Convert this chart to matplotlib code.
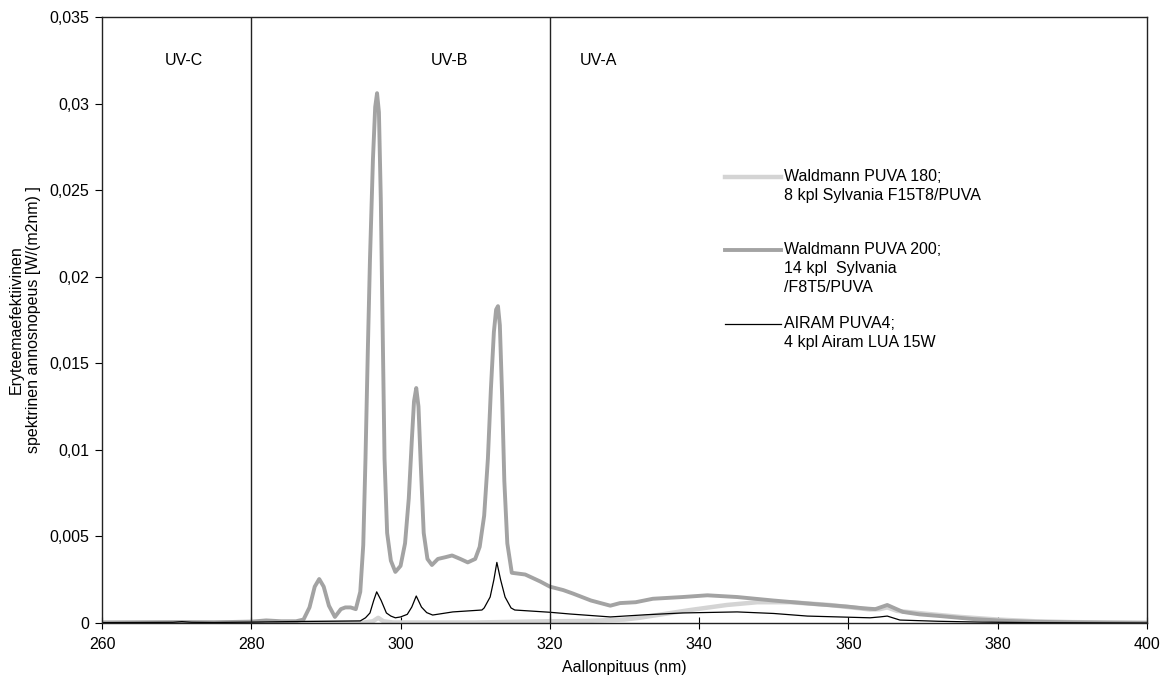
import matplotlib
matplotlib.use("Agg")
import matplotlib.pyplot as plt
from matplotlib.ticker import FuncFormatter

plt.rcParams['font.family'] = ['Liberation Sans', 'DejaVu Sans']

# Waldmann PUVA 180 (vaalea harmaa)
puva180_nm = [260, 280, 295, 296.3, 297.0, 297.7, 299, 310, 320, 325, 330, 332, 335,
              338.8, 343.7, 347.8, 352.2, 357.5, 362.9, 364.2, 365.2, 366.5, 370,
              375, 380, 385, 390, 400]
puva180_val = [0.0, 0.00002, 0.00002, 0.0001, 0.0003, 0.0001, 0.00003, 0.00003, 0.0001,
               0.00012, 0.0002, 0.0003, 0.0005, 0.00075, 0.00104, 0.0012, 0.0012,
               0.00104, 0.00078, 0.0008, 0.0009, 0.0007, 0.00055, 0.00035, 0.0002,
               0.0001, 0.00005, 0.00001]

# Waldmann PUVA 200 (harmaa)
puva200_nm = [260, 270, 275, 280, 282, 284, 286, 287.0, 287.8, 288.5, 289.1, 289.7,
              290.4, 291.2, 292.0, 292.6, 293.3, 294.0, 294.6, 295.0, 295.3, 295.6,
              295.9, 296.3, 296.6, 296.85, 297.1, 297.35, 297.6, 297.85, 298.2, 298.7,
              299.3, 300.0, 300.6, 301.1, 301.5, 301.8, 302.1, 302.4, 302.7, 303.1,
              303.6, 304.2, 305.0, 306.0, 306.9, 308.0, 309.0, 310.0, 310.6, 311.2,
              311.7, 312.1, 312.5, 312.8, 313.05, 313.3, 313.6, 313.9, 314.3, 314.9,
              316.7, 318.7, 320.0, 321.8, 323.1, 325.5, 328.1, 329.4, 331.5, 333.8,
              337.8, 341.1, 345.1, 349.9, 355.3, 359.8, 362.0, 363.6, 365.2, 367.3,
              369.5, 372.3, 376.7, 381.2, 385, 390, 395, 400]
puva200_val = [0.00003, 0.00005, 0.00004, 0.00008, 0.00015, 0.0001, 0.0001, 0.0002,
               0.0009, 0.0021, 0.00254, 0.0021, 0.001, 0.00035, 0.0008, 0.0009, 0.0009,
               0.0008, 0.0018, 0.0045, 0.0095, 0.0155, 0.021, 0.0268, 0.0298, 0.0306,
               0.0295, 0.0245, 0.017, 0.0095, 0.0052, 0.0036, 0.00295, 0.0033, 0.0046,
               0.0072, 0.0105, 0.0128, 0.01357, 0.0125, 0.0092, 0.0052, 0.0037,
               0.00335, 0.0037, 0.0038, 0.0039, 0.0037, 0.0035, 0.0037, 0.0044, 0.0062,
               0.0095, 0.0135, 0.0168, 0.0181, 0.0183, 0.0172, 0.0132, 0.0082, 0.0046,
               0.0029, 0.0028, 0.0024, 0.0021, 0.0019, 0.0017, 0.0013, 0.001, 0.00115,
               0.0012, 0.0014, 0.0015, 0.0016, 0.0015, 0.0013, 0.0011, 0.00095, 0.00085,
               0.0008, 0.00104, 0.00064, 0.0005, 0.0004, 0.00023, 0.00012, 0.00007,
               0.00004, 0.00002, 0.00001]

# AIRAM PUVA4 (musta)
airam_nm = [260, 265, 269.5, 270.7, 272, 275, 280, 285, 290, 294.6, 295.3, 295.9,
            296.4, 296.8, 297.4, 298.1, 298.7, 299.3, 300.0, 300.9, 301.5, 302.1,
            302.8, 303.5, 304.3, 307.0, 310.9, 311.2, 312.0, 312.5, 312.9, 313.4,
            314.0, 314.8, 315.3, 320.0, 322.7, 328.1, 333, 337.8, 345.1, 350, 354.5,
            362.9, 364.2, 365.2, 366.9, 372, 378, 385, 400]
airam_val = [0.00002, 0.00003, 0.00004, 0.00008, 0.00004, 0.00003, 0.00005, 0.00008,
             0.0001, 0.00012, 0.0003, 0.00058, 0.0013, 0.0018, 0.0013, 0.00058, 0.0004,
             0.0003, 0.00035, 0.0005, 0.00092, 0.00156, 0.00092, 0.0006, 0.00046,
             0.00064, 0.00075, 0.00087, 0.0015, 0.0025, 0.0035, 0.0025, 0.0015,
             0.00087, 0.00075, 0.00062, 0.00052, 0.00035, 0.00048, 0.00058, 0.00064,
             0.00055, 0.0004, 0.0003, 0.00035, 0.0004, 0.00017, 0.0001, 0.00005,
             0.00002, 0.0]

# legendan tekstit (tyhjä rivi alussa, jotta viiva osuu ensimmäiselle riville)
labels = [" \nWaldmann PUVA 180;\n8 kpl Sylvania F15T8/PUVA",
          " \n \nWaldmann PUVA 200;\n14 kpl  Sylvania\n/F8T5/PUVA",
          " \nAIRAM PUVA4;\n4 kpl Airam LUA 15W"]

uv_rajat = [280, 320]
uv_nimet = ["UV-C", "UV-B", "UV-A"]
uv_x = [271, 306.5, 326.5]

fig = plt.figure(figsize=(11.7, 6.82), dpi=100)
ax = fig.add_axes([102 / 1170, 59 / 682, 1045 / 1170, 606 / 682])

ax.plot(puva180_nm, puva180_val, color="#d4d4d4", lw=3.2, label=labels[0])
ax.plot(puva200_nm, puva200_val, color="#a3a3a3", lw=2.8, label=labels[1])
ax.plot(airam_nm, airam_val, color="black", lw=0.9, label=labels[2])

for r in uv_rajat:
    ax.axvline(r, color="#222222", lw=1.0)
for nimi, x in zip(uv_nimet, uv_x):
    ax.text(x, 0.0325, nimi, fontsize=11.5, ha="center", va="center")

ax.set_xlim(260, 400)
ax.set_ylim(0, 0.035)
ax.set_xticks(range(260, 401, 20))
ax.set_yticks([i * 0.005 for i in range(8)])
ax.yaxis.set_major_formatter(FuncFormatter(
    lambda v, p: "0" if abs(v) < 1e-12 else ("%g" % round(v, 4)).replace(".", ",")))
ax.tick_params(axis="x", direction="inout", length=8, labelsize=11.5, pad=6)
ax.tick_params(axis="y", direction="out", length=5, labelsize=11.5, pad=4)
for s in ax.spines.values():
    s.set_linewidth(1.0)
    s.set_color("#222222")

ax.set_xlabel("Aallonpituus (nm)", fontsize=11.5, labelpad=6)
ax.set_ylabel("Eryteemaefektiivinen\nspektrinen annosnopeus [W/(m2nm) ]",
              fontsize=11.5, labelpad=6)

leg = ax.legend(loc="upper left", bbox_to_anchor=(0.596, 0.78), frameon=False,
                fontsize=11.5, handlelength=3.5, handletextpad=0.2, labelspacing=0.17,
                borderpad=0, borderaxespad=0)
for t in leg.get_texts():
    t.set_linespacing(1.3)

fig.savefig("out.png", dpi=100)
